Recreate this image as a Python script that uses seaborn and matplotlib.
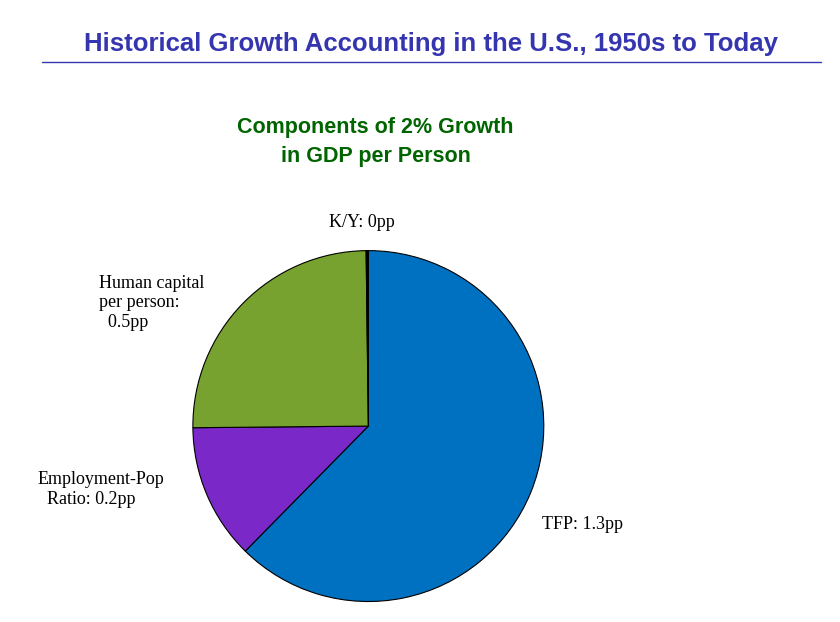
import matplotlib
matplotlib.use("Agg")
import matplotlib.pyplot as plt
import seaborn as sns

sns.set_theme(style="white")
plt.rcParams['font.family'] = ['DejaVu Sans']

components = ["TFP", "Employment-Pop Ratio", "Human capital per person", "K/Y"]
shares = [1.25, 0.25, 0.5, 0.004]
labels = ["TFP: 1.3pp", "Employment-Pop\n  Ratio: 0.2pp", "Human capital\nper person:\n  0.5pp", "K/Y: 0pp"]
colors = ["#0070c0", "#7b28c8", "#77a22f", "#000000"]

fig = plt.figure(figsize=(8.4, 6.22), dpi=100)
fig.text(0.513, 0.929, "Historical Growth Accounting in the U.S., 1950s to Today",
         ha="center", va="center", fontsize=18.5, fontweight="bold", color="#3535b0",
         family="Liberation Sans")
fig.add_artist(plt.Line2D([0.05, 0.977], [0.9, 0.9], color="#3535b0", lw=1))
fig.text(0.447, 0.772, "Components of 2% Growth\nin GDP per Person", ha="center", va="center",
         fontsize=15.5, fontweight="bold", color="#006400", family="Liberation Sans", linespacing=1.5)

ax = fig.add_axes([0.229, 0.032, 0.419, 0.566])
ax.pie(shares, colors=colors, startangle=90, counterclock=False,
       wedgeprops=dict(edgecolor="black", linewidth=0.8))
ax.set_xlim(-1.003, 1.003)
ax.set_ylim(-1.003, 1.003)
ax.set_aspect("equal")

serif = dict(family="Liberation Serif", fontsize=13, color="black")
fig.text(0.693, 0.157, labels[0], ha="center", va="center", **serif)
fig.text(0.045, 0.213, labels[1], ha="left", va="center", **serif)
fig.text(0.118, 0.513, labels[2], ha="left", va="center", **serif)
fig.text(0.431, 0.643, labels[3], ha="center", va="center", **serif)

fig.savefig("out.png", dpi=100, facecolor="white")
